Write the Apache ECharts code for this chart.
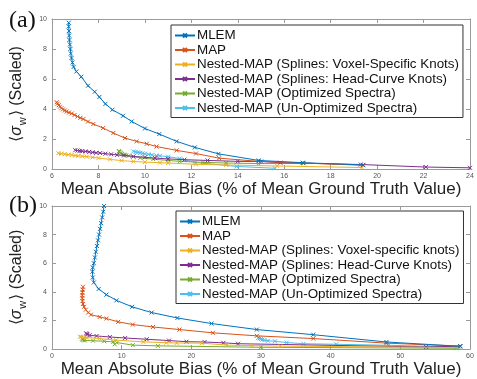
<!DOCTYPE html>
<html>
<head>
<meta charset="utf-8">
<script src="https://cdn.jsdelivr.net/npm/echarts@6/dist/echarts.min.js"></script>
<style>
  html, body { margin: 0; padding: 0; background: #fff; }
  #root { width: 477px; height: 379px; }
</style>
</head>
<body>
<div id="root"></div>
<script>
// series names and colours (MATLAB default order)
const namesA = ['MLEM', 'MAP', 'Nested-MAP (Splines: Voxel-Specific Knots)', 'Nested-MAP (Splines: Head-Curve Knots)', 'Nested-MAP (Optimized Spectra)', 'Nested-MAP (Un-Optimized Spectra)'];
const namesB = ['MLEM', 'MAP', 'Nested-MAP (Splines: Voxel-specific knots)', 'Nested-MAP (Splines: Head-Curve Knots)', 'Nested-MAP (Optimized Spectra)', 'Nested-MAP (Un-Optimized Spectra)'];
const colors = ['#0072BD', '#D95319', '#EDB120', '#7E2F8E', '#77AC30', '#4DBEEE'];

// panel (a): [mean absolute bias, sigma]
const mlemA = [[6.72,9.75],[6.72,9.5],[6.73,9.2],[6.74,8.9],[6.75,8.6],[6.77,8.3],[6.79,8.0],[6.81,7.7],[6.84,7.4],[6.88,7.1],[6.93,6.8],[7.05,6.5],[7.26,6.15],[7.55,5.55],[7.84,5.15],[8.04,4.8],[8.3,4.34],[8.6,3.95],[9.06,3.55],[9.43,3.17],[10.0,2.7],[10.62,2.33],[11.37,1.84],[12.15,1.44],[13.17,1.01],[14.9,0.57],[16.8,0.42],[19.4,0.27]];
const mapA = [[6.2,4.45],[6.24,4.35],[6.29,4.25],[6.34,4.15],[6.4,4.05],[6.47,3.97],[6.55,3.9],[6.63,3.83],[6.73,3.76],[6.85,3.7],[6.97,3.6],[7.1,3.5],[7.22,3.41],[7.35,3.33],[7.55,3.16],[7.78,3.0],[8.2,2.73],[8.64,2.4],[9.14,2.06],[9.65,1.84],[10.08,1.68],[10.5,1.5],[11.37,1.24],[12.2,1.03],[13.2,0.72],[14.9,0.51],[16.8,0.4],[19.4,0.25]];
const voxelA = [[6.27,1.05],[6.4,1.02],[6.55,0.99],[6.7,0.96],[6.85,0.93],[7.0,0.9],[7.13,0.88],[7.3,0.85],[7.5,0.82],[7.75,0.78],[8.0,0.73],[8.5,0.64],[9.0,0.56],[9.5,0.5],[10.0,0.46],[10.65,0.42],[11.0,0.4],[12.2,0.31],[13.5,0.27],[15.7,0.2],[19.35,0.1]];
const headA = [[7.0,1.25],[7.1,1.23],[7.2,1.21],[7.3,1.19],[7.45,1.17],[7.6,1.14],[7.75,1.11],[7.9,1.08],[8.07,1.06],[8.3,1.02],[8.55,0.98],[8.8,0.94],[9.1,0.9],[9.5,0.84],[10.0,0.78],[10.44,0.73],[11.0,0.67],[11.7,0.62],[12.7,0.57],[14.0,0.51],[15.0,0.5],[15.83,0.42],[19.3,0.3],[22.1,0.13],[24,0.08]];
const optA = [[8.88,1.2],[8.9,1.15],[8.93,1.1],[8.97,1.05],[9.02,1.0],[9.1,0.96],[9.2,0.92],[9.3,0.88],[9.5,0.82],[9.8,0.74],[10.36,0.66],[11.0,0.57],[11.5,0.51],[12.5,0.44],[13.5,0.4],[14.9,0.36],[16.84,0.38]];
const unoptA = [[9.5,1.17],[9.6,1.14],[9.7,1.11],[9.8,1.08],[9.9,1.05],[10.0,1.02],[10.15,0.98],[10.3,0.94],[10.5,0.9],[10.65,0.88],[11.0,0.82],[11.5,0.7],[12.16,0.44],[13.95,0.17],[15.6,0.05]];

// panel (b)
const mlemB = [[7.47,10],[7.35,9.6],[7.2,9.2],[7.05,8.8],[6.9,8.4],[6.75,8.0],[6.6,7.6],[6.45,7.2],[6.3,6.8],[6.15,6.4],[6.0,6.0],[5.85,5.7],[5.8,5.4],[5.85,5.0],[6.0,4.65],[6.7,4.2],[7.8,3.8],[9.25,3.4],[11.5,2.95],[14.3,2.55],[18.0,2.17],[22.9,1.78],[29.4,1.36],[37.5,1.0],[48,0.49],[58.6,0.19]];
const mapB = [[4.45,4.35],[4.4,4.15],[4.37,3.95],[4.35,3.75],[4.35,3.55],[4.37,3.35],[4.45,3.15],[4.6,2.95],[4.85,2.75],[5.2,2.55],[5.6,2.4],[6.85,2.24],[7.8,2.13],[9.5,1.9],[11.6,1.71],[14.5,1.54],[18.3,1.36],[23.1,1.13],[29.4,0.92],[37.5,0.73],[48,0.41],[58.6,0.2]];
const voxelB = [[4.0,0.86],[4.2,0.84],[4.5,0.82],[5.0,0.8],[6.85,0.73],[9.2,0.62],[13.1,0.5],[16.4,0.44],[17.9,0.42],[21.5,0.41],[25.1,0.27],[28.7,0.24],[32.8,0.2],[58.4,0.1]];
const headB = [[4.9,1.1],[5.0,1.05],[5.1,1.0],[5.4,0.96],[6.4,0.91],[8.3,0.84],[10.5,0.77],[13.6,0.68],[16.8,0.59],[19.3,0.51],[21.9,0.49],[24.6,0.43],[26.7,0.37],[53.7,0.14],[58.6,0.2]];
const optB = [[4.3,0.72],[4.4,0.66],[4.5,0.62],[4.7,0.6],[5.9,0.58],[7.5,0.54],[8.8,0.5],[9.0,0.33],[9.3,0.45],[11.6,0.27],[15.2,0.22],[30,0.12],[58,0.05]];
const unoptB = [[29.6,0.78],[29.8,0.74],[30.0,0.7],[30.2,0.66],[30.5,0.62],[31,0.58],[32,0.54],[33.7,0.45],[36.1,0.37],[40.8,0.33],[48.3,0.26],[58.5,0.13]];

const seriesA = [mlemA, mapA, voxelA, headA, optA, unoptA];
const seriesB = [mlemB, mapB, voxelB, headB, optB, unoptB];

const xName = 'Mean Absolute Bias (% of Mean Ground Truth Value)';
const yName = '⟨{i|σ}{s|w}⟩ (Scaled)';
const font = 'Liberation Sans, Arial, sans-serif';
const frame = '#9a9a9a';
const cross = 'path://M0,0L10,10M10,0L0,10';

function mainX(grid, min, max, interval, gap) {
    return {
        gridIndex: grid, type: 'value', min: min, max: max, interval: interval,
        axisLine: { show: true, onZero: false, lineStyle: { color: frame, width: 1 } },
        axisTick: { inside: true, length: 4, lineStyle: { color: frame } },
        axisLabel: { fontSize: 7, color: '#555', margin: 4, fontFamily: font },
        splitLine: { show: false },
        name: xName, nameLocation: 'middle', nameGap: gap,
        nameTextStyle: { fontSize: 17, color: '#222', fontFamily: font }
    };
}
function sideX(grid, min, max, interval) {
    return {
        gridIndex: grid, type: 'value', position: 'top', min: min, max: max, interval: interval,
        axisLine: { show: true, onZero: false, lineStyle: { color: frame, width: 1 } },
        axisTick: { inside: true, length: 4, lineStyle: { color: frame } },
        axisLabel: { show: false }, splitLine: { show: false }
    };
}
function mainY(grid) {
    return {
        gridIndex: grid, type: 'value', min: 0, max: 10, interval: 2,
        axisLine: { show: true, onZero: false, lineStyle: { color: frame, width: 1 } },
        axisTick: { inside: true, length: 4, lineStyle: { color: frame } },
        axisLabel: { fontSize: 7, color: '#555', margin: 5, fontFamily: font },
        splitLine: { show: false },
        name: yName, nameLocation: 'middle', nameGap: 24, nameRotate: 90,
        nameTextStyle: {
            fontSize: 16, color: '#222', fontFamily: font,
            rich: {
                i: { fontSize: 16, fontStyle: 'italic', color: '#222', fontFamily: font },
                s: { fontSize: 11, color: '#222', fontFamily: font, padding: [12, 1, 0, 1] }
            }
        }
    };
}
function sideY(grid) {
    return {
        gridIndex: grid, type: 'value', position: 'right', min: 0, max: 10, interval: 2,
        axisLine: { show: true, onZero: false, lineStyle: { color: frame, width: 1 } },
        axisTick: { inside: true, length: 4, lineStyle: { color: frame } },
        axisLabel: { show: false }, splitLine: { show: false }
    };
}

function makeSeries(list, names, axis) {
    return list.map((d, i) => ({
        name: names[i], type: 'line', data: d,
        xAxisIndex: axis, yAxisIndex: axis,
        symbol: cross, symbolSize: 4,
        lineStyle: { color: colors[i], width: 1 },
        itemStyle: { color: colors[i], borderColor: colors[i], borderWidth: 1 },
        emphasis: { disabled: true },
        z: 10 - i
    }));
}

function makeLegend(names, left, top) {
    return {
        data: names, orient: 'vertical', left: left, top: top,
        backgroundColor: '#fff', borderColor: '#333', borderWidth: 1,
        padding: [4, 4, 3, 3], itemGap: 1.5, itemWidth: 20, itemHeight: 5,
        textStyle: { fontSize: 13.4, lineHeight: 13, color: '#111', fontFamily: font, padding: [0, 0, 0, -3] }
    };
}

const chart = echarts.init(document.getElementById('root'));
chart.setOption({
    animation: false,
    backgroundColor: '#fff',
    title: [
        { text: '(a)', left: 4, top: 4, textStyle: { fontFamily: 'Liberation Serif, Times New Roman, serif', fontSize: 24, fontWeight: 'normal', color: '#111' } },
        { text: '(b)', left: 4, top: 189, textStyle: { fontFamily: 'Liberation Serif, Times New Roman, serif', fontSize: 24, fontWeight: 'normal', color: '#111' } }
    ],
    grid: [
        { left: 52, right: 7, top: 19, height: 150 },
        { left: 52, right: 7, top: 206, height: 143 }
    ],
    xAxis: [mainX(0, 6, 24, 2, 9), sideX(0, 6, 24, 2), mainX(1, 0, 60, 10, 12), sideX(1, 0, 60, 10)],
    yAxis: [mainY(0), sideY(0), mainY(1), sideY(1)],
    legend: [makeLegend(namesA, 171, 25), makeLegend(namesB, 176, 211)],
    series: makeSeries(seriesA, namesA, 0).concat(makeSeries(seriesB, namesB, 2))
});
</script>
</body>
</html>
